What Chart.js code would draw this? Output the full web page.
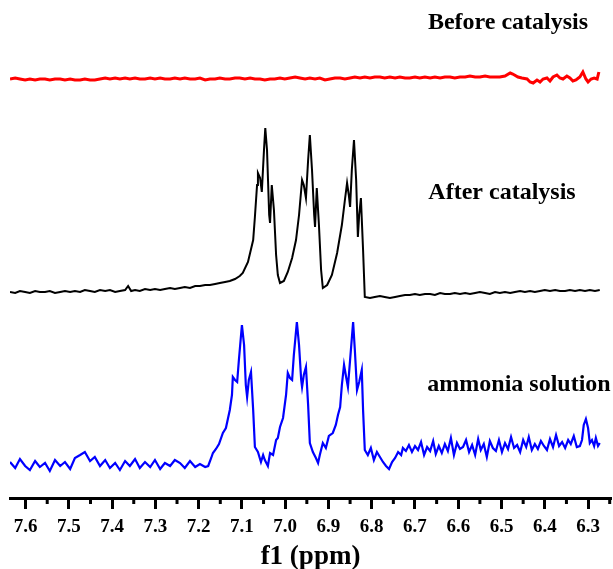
<!DOCTYPE html>
<html>
<head>
<meta charset="utf-8">
<script src="https://cdn.jsdelivr.net/npm/chart.js@4"></script>
<style>
  html, body { margin: 0; padding: 0; background: #fff; }
  #wrap { width: 613px; height: 569px; }
</style>
</head>
<body>
<div id="wrap"><canvas id="nmr" width="613" height="569"></canvas></div>
<script>
// 1H NMR, f1 (ppm) - three spectra stacked

// tick labels of the f1 axis
const tickValues = [7.6, 7.5, 7.4, 7.3, 7.2, 7.1, 7.0, 6.9, 6.8, 6.7, 6.6, 6.5, 6.4, 6.3];
const minorTicks = [7.55, 7.45, 7.35, 7.25, 7.15, 7.05, 6.95, 6.85, 6.75, 6.65, 6.55, 6.45, 6.35, 6.25];

const seriesNames = ["Before catalysis", "After catalysis", "ammonia solution"];

// Before catalysis (red)
const redPpm = [
  7.636, 7.624, 7.613, 7.601, 7.590, 7.578, 7.567, 7.555, 7.544, 7.532,
  7.520, 7.509, 7.497, 7.486, 7.474, 7.463, 7.451, 7.440, 7.428, 7.416,
  7.405, 7.393, 7.382, 7.370, 7.359, 7.347, 7.336, 7.324, 7.312, 7.301,
  7.289, 7.278, 7.266, 7.255, 7.243, 7.232, 7.220, 7.208, 7.197, 7.185,
  7.174, 7.162, 7.151, 7.139, 7.128, 7.116, 7.105, 7.093, 7.081, 7.070,
  7.058, 7.047, 7.035, 7.024, 7.012, 7.001, 6.989, 6.977, 6.966, 6.954,
  6.943, 6.931, 6.920, 6.908, 6.897, 6.885, 6.873, 6.862, 6.850, 6.839,
  6.827, 6.816, 6.804, 6.793, 6.781, 6.770, 6.758, 6.746, 6.735, 6.723,
  6.712, 6.700, 6.689, 6.677, 6.665, 6.654, 6.642, 6.631, 6.619, 6.608,
  6.596, 6.584, 6.573, 6.561, 6.550, 6.538, 6.527, 6.515, 6.504, 6.492,
  6.480, 6.474, 6.462, 6.453, 6.441, 6.434, 6.427, 6.418, 6.411, 6.404,
  6.395, 6.388, 6.381, 6.372, 6.365, 6.358, 6.349, 6.342, 6.335, 6.328,
  6.319, 6.312, 6.305, 6.300, 6.293, 6.286, 6.279, 6.275
];
const redInt = [
  0, 1, 0, -1, 0, -1, 0, 0, -1, 0,
  0, -1, 0, -1, -1, 0, -1, -1, 0, 1,
  0, 1, 0, 1, 0, 1, 0, 0, 1, 0,
  1, 0, 0, 1, 0, 1, 0, 0, 1, -1,
  0, 0, 1, 0, 0, 1, 1, 0, 1, 0,
  0, -1, 0, 0, 1, 0, 1, 2, 1, 0,
  1, 0, 1, -1, 0, 1, 1, 0, 1, 2,
  1, 2, 1, 2, 2, 1, 2, 1, 2, 1,
  1, 2, 1, 2, 1, 2, 1, 2, 2, 1,
  2, 2, 3, 2, 2, 3, 2, 2, 2, 3,
  6, 5, 2, 1, 0, -3, -4, -1, -3, 0,
  1, -2, 2, 4, 1, 0, 3, 1, -2, -1,
  2, 7, 0, -3, 0, 1, 0, 7
];

// After catalysis (black)
const blackPpm = [
  7.636, 7.624, 7.613, 7.601, 7.590, 7.578, 7.567, 7.555, 7.544, 7.532,
  7.520, 7.509, 7.497, 7.486, 7.474, 7.463, 7.451, 7.440, 7.428, 7.416,
  7.405, 7.393, 7.382, 7.370, 7.363, 7.356, 7.347, 7.336, 7.324, 7.312,
  7.301, 7.289, 7.278, 7.266, 7.255, 7.243, 7.232, 7.220, 7.208, 7.197,
  7.185, 7.174, 7.162, 7.151, 7.139, 7.128, 7.116, 7.105,
  7.098, 7.086, 7.074, 7.070, 7.065, 7.063, 7.058, 7.054, 7.049, 7.046,
  7.042, 7.037, 7.035, 7.031, 7.026, 7.021, 7.017, 7.012, 7.003, 6.994,
  6.984, 6.975, 6.968, 6.961, 6.957, 6.952, 6.947, 6.943, 6.938, 6.933,
  6.931, 6.927, 6.922, 6.917, 6.913, 6.903, 6.892, 6.880, 6.869, 6.862,
  6.857, 6.853, 6.850, 6.846, 6.841, 6.836, 6.832, 6.829, 6.825, 6.820,
  6.816, 6.804, 6.793, 6.781, 6.770, 6.758, 6.746, 6.735, 6.723, 6.712,
  6.700, 6.689, 6.677, 6.665, 6.654, 6.642, 6.631, 6.619, 6.608, 6.596,
  6.584, 6.573, 6.561, 6.550, 6.538, 6.527, 6.515, 6.504, 6.492, 6.480,
  6.469, 6.457, 6.446, 6.434, 6.423, 6.411, 6.400, 6.388, 6.376, 6.365,
  6.353, 6.342, 6.330, 6.319, 6.307, 6.296, 6.284, 6.273
];
const blackInt = [
  1, 0, 2, 1, 0, 2, 1, 1, 2, 0,
  1, 2, 1, 2, 1, 3, 2, 1, 3, 2,
  3, 1, 2, 3, 7, 2, 3, 2, 4, 3,
  4, 3, 4, 5, 4, 5, 6, 5, 7, 7,
  8, 8, 9, 10, 11, 12, 14, 17,
  20, 31, 53, 76, 108, 120, 115, 101, 143, 165,
  143, 78, 70, 108, 83, 38, 18, 10, 12, 21,
  35, 53, 78, 113, 108, 95, 133, 158, 123, 78,
  66, 105, 68, 23, 5, 8, 18, 40, 68, 93,
  110, 98, 86, 123, 153, 113, 56, 78, 95, 43,
  -4, -5, -4, -3, -4, -5, -4, -3, -2, -2,
  -1, -2, -1, -1, -2, 0, -1, -1, 0, -1,
  0, -1, 0, 1, 0, -1, 1, 0, 1, 0,
  1, 2, 1, 2, 1, 2, 3, 2, 3, 2,
  2, 3, 2, 3, 2, 3, 2, 3
];

// ammonia solution (blue)
const bluePpm = [
  7.636, 7.624, 7.613, 7.601, 7.590, 7.578, 7.567, 7.555, 7.544, 7.532,
  7.520, 7.509, 7.497, 7.486, 7.474, 7.463, 7.451, 7.440, 7.428, 7.416,
  7.405, 7.393, 7.382, 7.370, 7.359, 7.347, 7.336, 7.324, 7.312, 7.301,
  7.289, 7.278, 7.266, 7.255, 7.243, 7.232, 7.220, 7.208, 7.197, 7.185,
  7.178, 7.171, 7.167, 7.160, 7.153, 7.144, 7.137, 7.132, 7.128, 7.123,
  7.121, 7.116, 7.111, 7.107, 7.100, 7.095, 7.091, 7.088, 7.084, 7.079,
  7.074, 7.070, 7.063, 7.056, 7.051, 7.047, 7.040, 7.035, 7.028, 7.021,
  7.017, 7.012, 7.005, 6.998, 6.994, 6.989, 6.984, 6.980, 6.973, 6.968,
  6.963, 6.961, 6.957, 6.952, 6.947, 6.943, 6.936, 6.929, 6.924, 6.920,
  6.913, 6.906, 6.899, 6.890, 6.883, 6.878, 6.873, 6.869, 6.864, 6.860,
  6.855, 6.850, 6.843, 6.839, 6.834, 6.829, 6.823, 6.820, 6.816, 6.809,
  6.802, 6.795, 6.788, 6.781, 6.774, 6.767, 6.760, 6.753, 6.746, 6.739,
  6.732, 6.728, 6.721, 6.714, 6.707, 6.700, 6.693, 6.686, 6.679, 6.672,
  6.665, 6.658, 6.652, 6.645, 6.638, 6.631, 6.624, 6.617, 6.610, 6.603,
  6.596, 6.589, 6.582, 6.575, 6.568, 6.561, 6.554, 6.548, 6.541, 6.534,
  6.527, 6.520, 6.513, 6.506, 6.499, 6.492, 6.485, 6.478, 6.471, 6.464,
  6.457, 6.450, 6.443, 6.437, 6.430, 6.423, 6.416, 6.409, 6.402, 6.395,
  6.388, 6.381, 6.374, 6.367, 6.360, 6.353, 6.346, 6.340, 6.333, 6.326,
  6.319, 6.314, 6.310, 6.305, 6.300, 6.296, 6.291, 6.286, 6.282, 6.277,
  6.273
];
const blueInt = [
  1, -5, 4, -3, -7, 2, -4, 0, -8, 3,
  -3, 1, -6, 5, 8, 11, 2, 6, -3, 3,
  -5, 0, -7, 2, -3, 4, -5, 1, -4, 3,
  -6, 0, -3, 3, 0, -5, 2, -4, -1, -4,
  -3, 5, 10, 14, 19, 30, 35, 45, 53, 68,
  86, 83, 81, 103, 138, 118, 78, 66, 83, 91,
  53, 16, 11, 1, 8, 3, -3, 10, 8, 23,
  25, 36, 45, 68, 90, 85, 83, 108, 141, 118,
  83, 76, 88, 96, 58, 20, 11, 5, 0, 8,
  20, 15, 27, 30, 38, 48, 56, 78, 98, 88,
  76, 103, 141, 113, 73, 81, 93, 53, 13, 8,
  15, 3, 11, 6, 1, -3, -6, 1, 5, 11,
  8, 15, 12, 18, 11, 17, 13, 21, 8, 16,
  12, 22, 9, 17, 10, 19, 12, 25, 8, 20,
  14, 16, 23, 11, 18, 8, 24, 13, 19, 6,
  22, 15, 12, 23, 11, 20, 14, 26, 15, 18,
  11, 23, 16, 26, 13, 19, 14, 22, 17, 13,
  24, 16, 28, 17, 21, 15, 23, 19, 27, 16,
  17, 23, 38, 44, 35, 20, 23, 17, 25, 17,
  20
];

const traces = [
  { ppm: redPpm, intensity: redInt, color: "#ff0000", base: 419, width: 3 },
  { ppm: blackPpm, intensity: blackInt, color: "#000000", base: 205, width: 2 },
  { ppm: bluePpm, intensity: blueInt, color: "#0000ff", base: 35, width: 2.2 }
];

// where the spectrum names go (canvas px)
const namePos = [
  { x: 508, y: 29 },
  { x: 502, y: 199 },
  { x: 519, y: 391 }
];

const minorTickPlugin = {
  id: "minorTicks",
  afterDraw(chart) {
    const ctx = chart.ctx;
    const sx = chart.scales.x;
    ctx.save();
    ctx.strokeStyle = "#000";
    ctx.lineWidth = 3;
    minorTicks.forEach(v => {
      const px = sx.getPixelForValue(v);
      if (px < sx.left || px > sx.right) return;
      ctx.beginPath();
      ctx.moveTo(px, sx.top);
      ctx.lineTo(px, sx.top + 6);
      ctx.stroke();
    });
    ctx.restore();
  }
};

const namePlugin = {
  id: "spectrumNames",
  afterDraw(chart) {
    const ctx = chart.ctx;
    ctx.save();
    ctx.fillStyle = "#000";
    ctx.font = 'bold 24px "Liberation Serif", "Times New Roman", serif';
    ctx.textAlign = "center";
    ctx.textBaseline = "alphabetic";
    seriesNames.forEach((name, i) => {
      ctx.fillText(name, namePos[i].x, namePos[i].y);
    });
    ctx.restore();
  }
};

new Chart("nmr", {
  type: "line",
  data: {
    datasets: traces.map((t, i) => ({
      label: seriesNames[i],
      data: t.ppm.map((x, j) => ({ x: x, y: t.intensity[j] + t.base })),
      borderColor: t.color,
      borderWidth: t.width,
      pointRadius: 0,
      tension: 0,
      fill: false
    }))
  },
  options: {
    responsive: false,
    animation: false,
    layout: { padding: { left: 10, right: 2, top: 0, bottom: 0 } },
    plugins: {
      legend: { display: false },
      tooltip: { enabled: false }
    },
    scales: {
      x: {
        type: "linear",
        reverse: true,
        min: 6.247,
        max: 7.636,
        afterBuildTicks: axis => {
          axis.ticks = tickValues.map(v => ({ value: v }));
        },
        afterFit: axis => { axis.height = 71; },
        border: { display: true, width: 3, color: "#000" },
        grid: {
          drawOnChartArea: false,
          drawTicks: true,
          tickLength: 11,
          tickWidth: 3,
          tickColor: "#000"
        },
        ticks: {
          color: "#000",
          padding: 7,
          maxRotation: 0,
          autoSkip: false,
          font: { family: '"Liberation Serif", "Times New Roman", serif', size: 19, weight: "bold" },
          callback: v => v.toFixed(1)
        },
        title: {
          display: true,
          text: "f1 (ppm)",
          color: "#000",
          padding: { top: 0, bottom: -4 },
          font: { family: '"Liberation Serif", "Times New Roman", serif', size: 27, weight: "bold" }
        }
      },
      y: {
        display: false,
        min: 0,
        max: 498
      }
    }
  },
  plugins: [minorTickPlugin, namePlugin]
});
</script>
</body>
</html>
